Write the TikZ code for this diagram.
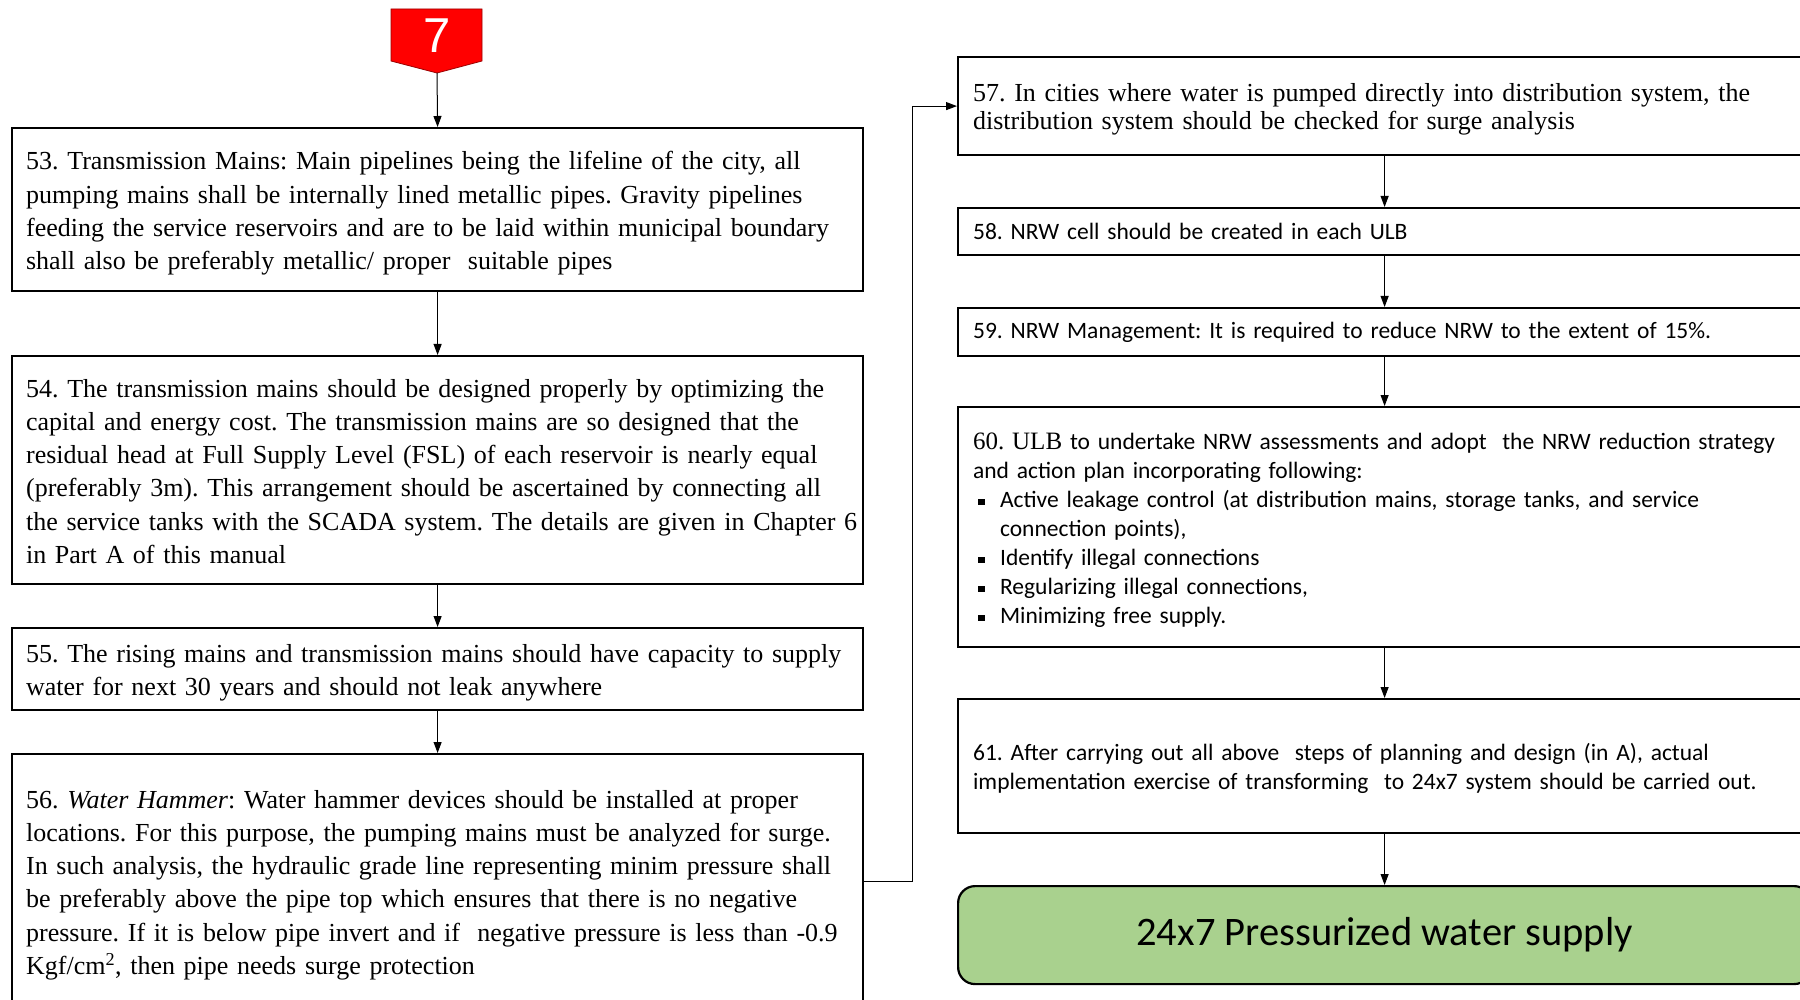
\documentclass[tikz,border=0pt]{standalone}
\usepackage{fontspec}
\setmainfont{Liberation Serif}[WordSpace=0.88]
\newfontfamily\calib{Carlito}
\newfontfamily\arialf{Liberation Sans}
\usetikzlibrary{arrows.meta}
\frenchspacing
% a block of lines that never re-wraps, set a little low in its box
\newcommand\txtrows[1]{\raisebox{-3.5pt}[\height][\depth]{\begin{tabular}{@{}l@{}}#1\end{tabular}}}
% square bullet with hanging indent
\newcommand\bul{\hspace*{5pt}\makebox[22pt][l]{\rule[2pt]{6.5pt}{6.5pt}}}
\newcommand\hang{\hspace*{27pt}}
\definecolor{leafgreen}{HTML}{A9D18E}
\begin{document}
\begin{tikzpicture}[x=1pt,y=-1pt,
  box/.style={draw=black, line width=2.2pt, fill=white, rectangle,
    anchor=north west, inner ysep=0pt, align=left},
  leftbox/.style={box, minimum width=851pt, text width=823pt, inner xsep=14pt,
    font=\fontsize{26}{33.3}\selectfont},
  rightbox/.style={box, minimum width=853pt, text width=823pt, inner xsep=15pt,
    font=\calib\fontsize{23.5}{29}\selectfont},
  arr/.style={-{Triangle[length=11pt,width=8pt]}, line width=1pt, draw=black}]
\useasboundingbox (0,0) rectangle (1800,1000);
\clip (0,0) rectangle (1800,1000);

% start marker
\filldraw[fill=red, draw=red!60!black, line width=0.8pt]
  (391,9) -- (482,9) -- (482,61) -- (437,73) -- (391,61) -- cycle;
\node[text=white, font=\arialf\fontsize{49}{49}\selectfont] (seven) at (437,36) {7};
\coordinate (tip) at (437,73);

% left column
\node[leftbox, minimum height=163pt] (b53) at (11,127) {\txtrows{%
53. Transmission Mains: Main pipelines being the lifeline of the city, all\\
pumping mains shall be internally lined metallic pipes. Gravity pipelines\\
feeding the service reservoirs and are to be laid within municipal boundary\\
shall also be preferably metallic/ proper\ \ suitable pipes}};

\node[leftbox, minimum height=228pt] (b54) at (11,355) {\txtrows{%
54. The transmission mains should be designed properly by optimizing the\\
capital and energy cost. The transmission mains are so designed that the\\
residual head at Full Supply Level (FSL) of each reservoir is nearly equal\\
(preferably 3m). This arrangement should be ascertained by connecting all\\
the service tanks with the SCADA system. The details are given in Chapter 6\\
in Part A of this manual}};

\node[leftbox, minimum height=82pt] (b55) at (11,627) {\txtrows{%
55. The rising mains and transmission mains should have capacity to supply\\
water for next 30 years and should not leak anywhere}};

\node[leftbox, minimum height=254pt] (b56) at (11,753) {\txtrows{%
56. \textit{Water Hammer}: Water hammer devices should be installed at proper\\
locations. For this purpose, the pumping mains must be analyzed for surge.\\
In such analysis, the hydraulic grade line representing minim pressure shall\\
be preferably above the pipe top which ensures that there is no negative\\
pressure. If it is below pipe invert and if\ \ negative pressure is less than -0.9\\
Kgf/cm\textsuperscript{2}, then pipe needs surge protection}};

% right column
\node[rightbox, minimum height=98pt, font=\fontsize{26}{28.5}\selectfont] (b57) at (957,56) {\txtrows{%
57. In cities where water is pumped directly into distribution system, the\\
distribution system should be checked for surge analysis}};

\node[rightbox, minimum height=47pt] (b58) at (957,207)
  {58. NRW cell should be created in each ULB};

\node[rightbox, minimum height=48pt] (b59) at (957,307)
  {59. NRW Management: It is required to reduce NRW to the extent of 15\%.};

\node[rightbox, minimum height=240pt] (b60) at (957,406) {\txtrows{%
{\rmfamily\fontsize{25}{29}\selectfont 60. ULB} to undertake NRW assessments and adopt\ \ the NRW reduction strategy\\
and action plan incorporating following:\\
\bul Active leakage control (at distribution mains, storage tanks, and service\\
\hang connection points),\\
\bul Identify illegal connections\\
\bul Regularizing illegal connections,\\
\bul Minimizing free supply.}};

\node[rightbox, minimum height=134pt] (b61) at (957,698) {\txtrows{%
61. After carrying out all above\ \ steps of planning and design (in A), actual\\
implementation exercise of transforming\ \ to 24x7 system should be carried out.}};

\node[box, fill=leafgreen, rounded corners=17pt, minimum width=853pt, minimum height=98pt,
  align=center, font=\calib\fontsize{40.5}{48}\selectfont] (goal) at (957,885)
  {24x7 Pressurized water supply};

% connectors
\draw[arr] (tip) -- (b53.north);
\draw[arr] (b53.south) -- (b54.north);
\draw[arr] (b54.south) -- (b55.north);
\draw[arr] (b55.south) -- (b56.north);
\draw[arr] (b56.east) -- ++(48,0) |- (b57.west);
\draw[arr] (b57.south) -- (b58.north);
\draw[arr] (b58.south) -- (b59.north);
\draw[arr] (b59.south) -- (b60.north);
\draw[arr] (b60.south) -- (b61.north);
\draw[arr] (b61.south) -- (goal.north);
\end{tikzpicture}
\end{document}
